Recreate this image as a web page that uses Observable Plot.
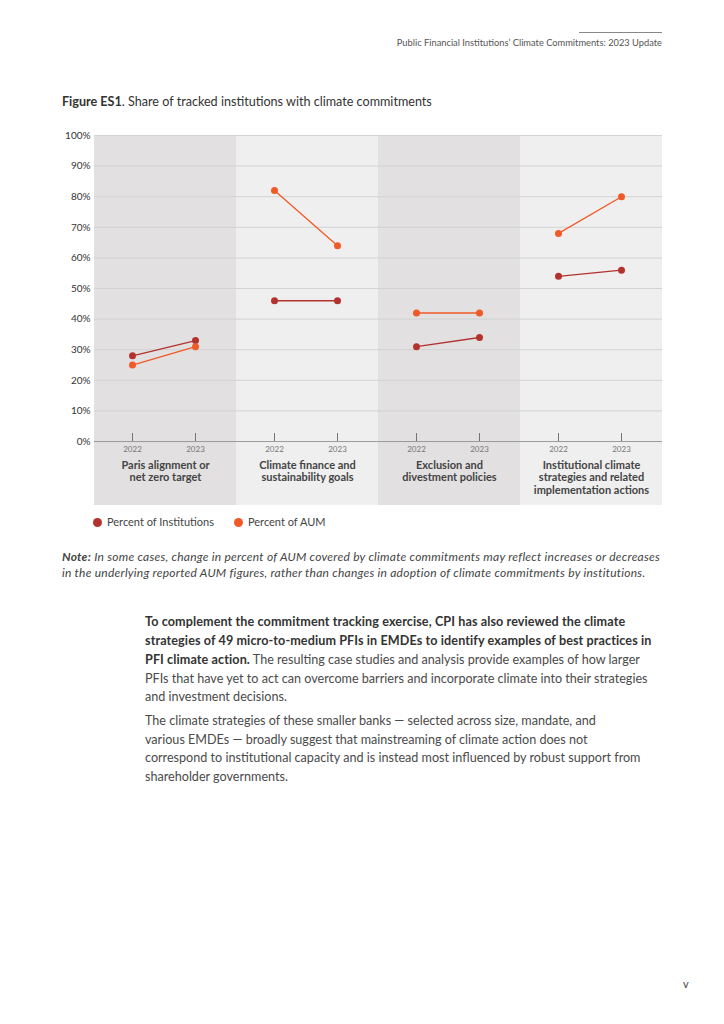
<!DOCTYPE html>
<html><head><meta charset="utf-8">
<script src="https://cdn.jsdelivr.net/npm/d3@7"></script>
<script src="https://cdn.jsdelivr.net/npm/@observablehq/plot@0.6"></script>
<style>
body{margin:0;width:724px;height:1024px;background:#fff;position:relative;font-family:Lato,"Open Sans",sans-serif;color:#333;overflow:hidden}
.abs{position:absolute;white-space:nowrap}
.note{left:62px;font-size:12px;letter-spacing:0.25px;font-style:italic;color:#444;line-height:16px}
.body{left:145px;font-size:12.6px;color:#4a4a4a;line-height:18.8px}
.body b{color:#333;letter-spacing:0.1px}
.leg{top:515px;font-size:11px;color:#444;line-height:14px}
.leg i{display:inline-block;width:9px;height:9px;border-radius:50%;vertical-align:-1px;margin-right:5px}
</style></head><body>
<div class="abs" style="left:579px;top:32px;width:83px;height:0;border-top:1px solid #888"></div>
<div class="abs" style="right:62px;top:37px;font-size:9.3px;color:#555">Public Financial Institutions’ Climate Commitments: 2023 Update</div>
<div class="abs" style="left:62px;top:94px;font-size:12.6px;color:#333"><b>Figure ES1</b>. Share of tracked institutions with climate commitments</div>
<div id="chart" class="abs" style="left:0;top:125px"></div>
<div id="legend"></div>
<div class="abs note" style="top:549px"><b>Note:</b> In some cases, change in percent of AUM covered by climate commitments may reflect increases or decreases</div>
<div class="abs note" style="top:565px">in the underlying reported AUM figures, rather than changes in adoption of climate commitments by institutions.</div>
<div class="abs body" style="top:613px"><b>To complement the commitment tracking exercise, CPI has also reviewed the climate</b></div>
<div class="abs body" style="top:632px"><b>strategies of 49 micro-to-medium PFIs in EMDEs to identify examples of best practices in</b></div>
<div class="abs body" style="top:651px"><b>PFI climate action.</b> The resulting case studies and analysis provide examples of how larger</div>
<div class="abs body" style="top:670px">PFIs that have yet to act can overcome barriers and incorporate climate into their strategies</div>
<div class="abs body" style="top:688px">and investment decisions.</div>
<div class="abs body" style="top:712px">The climate strategies of these smaller banks — selected across size, mandate, and</div>
<div class="abs body" style="top:731px">various EMDEs — broadly suggest that mainstreaming of climate action does not</div>
<div class="abs body" style="top:749px">correspond to institutional capacity and is instead most influenced by robust support from</div>
<div class="abs body" style="top:768px">shareholder governments.</div>
<div class="abs" style="left:683px;top:977px;font-size:11px;color:#444">v</div>
<script>
const categories = ["Paris alignment or\nnet zero target","Climate finance and\nsustainability goals","Exclusion and\ndivestment policies","Institutional climate\nstrategies and related\nimplementation actions"];
const years = ["2022","2023"];
const seriesNames = ["Percent of Institutions","Percent of AUM"];
const pctInstitutions = [[28,33],[46,46],[31,34],[54,56]];
const pctAUM = [[25,31],[82,64],[42,42],[68,80]];
const yTicks = [0,10,20,30,40,50,60,70,80,90,100];

const seriesColors = ["#b3322e","#f05a28"];
const rows = [];
categories.forEach((c,i)=>{
  years.forEach((yr,j)=>{
    rows.push({category:c, year:yr, series:seriesNames[0], value:pctInstitutions[i][j]});
    rows.push({category:c, year:yr, series:seriesNames[1], value:pctAUM[i][j]});
  });
});
const yMin = -20.9;
const chart = Plot.plot({
  width:724, height:382, marginTop:10, marginBottom:2, marginLeft:93, marginRight:62,
  style:{fontFamily:"Lato, sans-serif", background:"transparent", overflow:"visible", color:"#333"},
  fx:{domain:categories, padding:0, axis:null},
  x:{domain:years, type:"point", padding:0.62, align:0.48, axis:null},
  y:{domain:[yMin,100], ticks:yTicks, tickFormat:d=>d+"%", tickSize:0, tickPadding:4, label:null, fontSize:10},
  color:{domain:seriesNames, range:seriesColors},
  marks:[
    Plot.rect(categories.filter((d,i)=>i%2===0), {fx:d=>d, y1:yMin, y2:100, fill:"#e2e0e1"}),
    Plot.rect(categories.filter((d,i)=>i%2===1), {fx:d=>d, y1:yMin, y2:100, fill:"#efefef"}),
    Plot.ruleY(yTicks.slice(1), {stroke:"#d3d3d3", strokeWidth:1}),
    Plot.ruleY([0], {stroke:"#9a9a9a", strokeWidth:1}),
    Plot.ruleX(years, {x:d=>d, y1:0, y2:2.6, stroke:"#555", strokeWidth:0.8}),
    Plot.text(years, {x:d=>d, y:0, dy:8, text:d=>d, fontSize:8, fill:"#777"}),
    Plot.text(categories, {fx:d=>d, y:0, dy:18, text:d=>d, lineAnchor:"top", fontSize:11, fontWeight:700, fill:"#444", lineHeight:1.15}),
    Plot.line(rows, {fx:"category", x:"year", y:"value", z:"series", stroke:"series", strokeWidth:1.3}),
    Plot.dot(rows, {fx:"category", x:"year", y:"value", fill:"series", r:3.5})
  ]
});
document.getElementById("chart").appendChild(chart);
const leg = document.getElementById("legend");
const legX = [93, 234];
seriesNames.forEach((s,i)=>{
  const d = document.createElement("div");
  d.className = "abs leg";
  d.style.left = legX[i] + "px";
  d.innerHTML = `<i style="background:${seriesColors[i]}"></i>${s}`;
  leg.appendChild(d);
});
</script>
</body></html>
